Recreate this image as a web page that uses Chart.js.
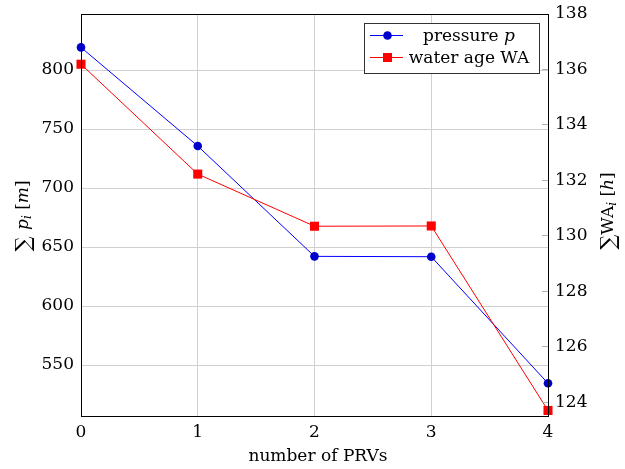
<!DOCTYPE html>
<html>
<head>
<meta charset="utf-8">
<script src="https://cdn.jsdelivr.net/npm/chart.js@4.4.1/dist/chart.umd.min.js"></script>
<style>
html,body{margin:0;padding:0;background:#fff;}
#wrap{width:625px;height:469px;position:relative;}
</style>
</head>
<body>
<div id="wrap"><canvas id="c" width="625" height="469"></canvas></div>
<script>
const categories = [0, 1, 2, 3, 4];
const pressure = [819.2, 735.6, 642.1, 641.8, 534.5];
const waterAge = [136.19, 132.23, 130.35, 130.36, 123.71];
const leftTicks = [550, 600, 650, 700, 750, 800];
const rightTicks = [124, 126, 128, 130, 132, 134, 136, 138];

const FONT = '"DejaVu Serif", "Liberation Serif", serif';
const FS = 17;

function drawRich(ctx, segs, cx, cy, rot) {
  ctx.save();
  ctx.translate(cx, cy);
  ctx.rotate(rot || 0);
  ctx.textBaseline = 'alphabetic';
  ctx.textAlign = 'left';
  let total = 0;
  const ws = segs.map(s => {
    ctx.font = (s.italic ? 'italic ' : '') + (s.size || FS) + 'px ' + FONT;
    const w = ctx.measureText(s.t).width;
    total += w;
    return w;
  });
  let x = -total / 2;
  const base = FS * 0.36;
  segs.forEach((s, i) => {
    ctx.font = (s.italic ? 'italic ' : '') + (s.size || FS) + 'px ' + FONT;
    ctx.fillStyle = '#000';
    ctx.fillText(s.t, x, base + (s.dy || 0));
    x += ws[i];
  });
  ctx.restore();
}

const decor = {
  id: 'decor',
  afterDraw(chart) {
    const ctx = chart.ctx;
    const a = chart.chartArea;
    const yR = chart.scales.yR;
    ctx.save();
    ctx.strokeStyle = '#b0b0b0';
    ctx.lineWidth = 1;
    rightTicks.forEach(v => {
      const y = Math.floor(yR.getPixelForValue(v)) + 0.5;
      ctx.beginPath();
      ctx.moveTo(a.right - 6, y);
      ctx.lineTo(a.right, y);
      ctx.stroke();
    });
    ctx.strokeStyle = '#000';
    ctx.lineWidth = 1;
    const l = Math.floor(a.left) + 0.5, r = Math.floor(a.right) + 0.5;
    const t = Math.floor(a.top) + 0.5, b = Math.floor(a.bottom) + 0.5;
    ctx.strokeRect(l, t, r - l, b - t);
    ctx.restore();

    drawRich(ctx, [{t: 'number of PRVs'}], 318, 455, 0);
    drawRich(ctx, [
      {t: '\u2211 ', size: 21, dy: 2}, {t: 'p', italic: true}, {t: 'i', italic: true, size: 12, dy: 3},
      {t: ' ['}, {t: 'm', italic: true}, {t: ']'}
    ], 22, 216, -Math.PI / 2);
    drawRich(ctx, [
      {t: '\u2211', size: 21, dy: 2}, {t: 'WA'}, {t: 'i', italic: true, size: 12, dy: 3},
      {t: ' ['}, {t: 'h', italic: true}, {t: ']'}
    ], 607, 211, -Math.PI / 2);

    const lx = a.right - 184, ly = a.top + 9, lw = 175, lh = 50;
    ctx.save();
    ctx.fillStyle = '#fff';
    ctx.fillRect(lx, ly, lw, lh);
    ctx.strokeStyle = '#333';
    ctx.lineWidth = 1;
    ctx.strokeRect(Math.floor(lx) + 0.5, Math.floor(ly) + 0.5, lw, lh);
    const rows = [
      {y: ly + 12.5, color: '#0000ff', fill: '#0000cc', shape: 'circle', segs: [{t: 'pressure '}, {t: 'p', italic: true}]},
      {y: ly + 34.5, color: '#ff0000', fill: '#ff0000', shape: 'rect', segs: [{t: 'water age WA'}]}
    ];
    rows.forEach(row => {
      ctx.strokeStyle = row.color;
      ctx.lineWidth = 1;
      ctx.beginPath();
      ctx.moveTo(lx + 6, row.y);
      ctx.lineTo(lx + 39, row.y);
      ctx.stroke();
      ctx.fillStyle = row.fill;
      if (row.shape === 'circle') {
        ctx.beginPath();
        ctx.arc(lx + 23.5, row.y, 4.3, 0, Math.PI * 2);
        ctx.fill();
      } else {
        ctx.fillRect(lx + 19, row.y - 4.5, 9, 9);
      }
      drawRich(ctx, row.segs, lx + 105, row.y - 1, 0);
    });
    ctx.restore();
  }
};

function zeroPad(s) { s.paddingTop = 0; s.paddingBottom = 0; s.paddingLeft = 0; s.paddingRight = 0; }

new Chart(document.getElementById('c'), {
  type: 'line',
  data: {
    labels: categories,
    datasets: [
      {
        label: 'water age WA',
        data: waterAge,
        yAxisID: 'yR',
        borderColor: '#ff0000',
        borderWidth: 1,
        backgroundColor: '#ff0000',
        pointStyle: 'rect',
        pointRadius: 6.4,
        pointBorderWidth: 0,
        pointBackgroundColor: '#ff0000',
        tension: 0,
        clip: false
      },
      {
        label: 'pressure p',
        data: pressure,
        yAxisID: 'y',
        borderColor: '#0000ff',
        borderWidth: 1,
        backgroundColor: '#0000cc',
        pointStyle: 'circle',
        pointRadius: 4.3,
        pointBorderWidth: 0,
        pointBackgroundColor: '#0000cc',
        tension: 0,
        clip: false
      }
    ]
  },
  options: {
    responsive: false,
    animation: false,
    devicePixelRatio: 1,
    layout: {padding: {top: 14, left: 0, right: 0, bottom: 0}},
    plugins: {legend: {display: false}, tooltip: {enabled: false}},
    scales: {
      x: {
        type: 'category',
        offset: false,
        grid: {color: '#d0d0d0', drawTicks: false},
        border: {display: false},
        ticks: {color: '#000', font: {family: FONT, size: FS}, padding: 6, maxRotation: 0},
        afterFit(s) { s.height = 53; zeroPad(s); }
      },
      y: {
        position: 'left',
        min: 506.8,
        max: 847.5,
        grid: {color: '#d0d0d0', drawTicks: false},
        border: {display: false},
        ticks: {color: '#000', font: {family: FONT, size: FS}, padding: 7},
        afterBuildTicks(s) { s.ticks = leftTicks.map(v => ({value: v})); },
        afterFit(s) { s.width = 81; zeroPad(s); }
      },
      yR: {
        position: 'right',
        min: 123.51,
        max: 138,
        grid: {display: false, drawTicks: false},
        border: {display: false},
        ticks: {color: '#000', font: {family: FONT, size: FS}, padding: 7},
        afterBuildTicks(s) { s.ticks = rightTicks.map(v => ({value: v})); },
        afterFit(s) { s.width = 77; zeroPad(s); }
      }
    }
  },
  plugins: [decor]
});
</script>
</body>
</html>
